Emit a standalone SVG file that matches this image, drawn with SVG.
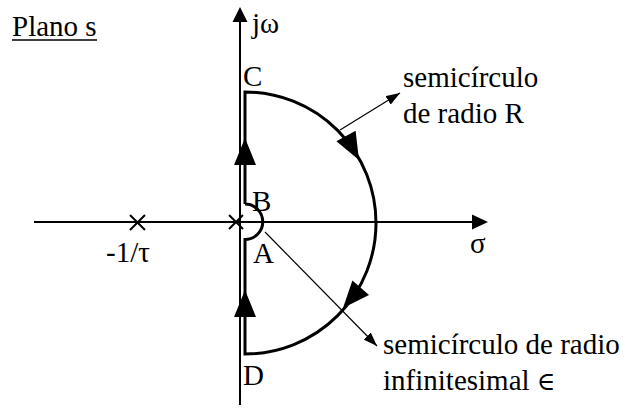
<svg xmlns="http://www.w3.org/2000/svg" width="625" height="410" viewBox="0 0 625 410">
<style>
text{font-family:'Liberation Serif','Times New Roman','DejaVu Serif',serif;font-size:29px;fill:#000}
.axis{stroke:#000;stroke-width:2;fill:none}
.contour{stroke:#000;stroke-width:3;fill:none}
.thin{stroke:#000;stroke-width:1.2;fill:none}
.head{fill:#000;stroke:none}
</style>
<defs>
<marker id="ah" markerWidth="14" markerHeight="10" refX="14" refY="5" orient="auto" markerUnits="userSpaceOnUse">
<path d="M0,0 L14,5 L0,10 Z" fill="#000"/>
</marker>
</defs>
<rect width="625" height="410" fill="#fff"/>
<g id="axes">
<line class="axis" x1="34" y1="222" x2="474" y2="222"/>
<path class="head" d="M488,222 L472,214.5 L472,229.5 Z"/>
<line class="axis" x1="240" y1="405" x2="240" y2="20"/>
<path class="head" d="M240,7 L232.5,22 L247.5,22 Z"/>
</g>
<g id="poles">
<path class="axis" d="M229,215 L243,229 M229,229 L243,215"/>
<path class="axis" d="M130,215 L145,230 M130,230 L145,215"/>
</g>
<g id="contour">
<path class="contour" d="M245,204 L245,92 A131,131 0 0 1 245,354 L245,239.5 A17.7,17.7 0 0 0 245,204"/>
</g>
<g id="connectors">
<path class="head" d="M245,138 L234,165 L256,165 Z"/>
<path class="head" d="M245,290 L234,317 L256,317 Z"/>
<path class="head" d="M359,160 L355.6,130.7 L336.4,141.3 Z"/>
<path class="head" d="M343,308 L369,295 L352.4,280.4 Z"/>
<line class="thin" x1="340" y1="130" x2="400" y2="93" marker-end="url(#ah)"/>
<line class="thin" x1="265" y1="232" x2="377" y2="346" marker-end="url(#ah)"/>
</g>
<g id="labels">
<text x="12" y="36">Plano s</text>
<line x1="12" y1="40" x2="97" y2="40" stroke="#000" stroke-width="1.5"/>
<text x="252" y="33">jω</text>
<text x="243" y="86">C</text>
<text x="252" y="211">B</text>
<text x="253" y="263">A</text>
<text x="243" y="385">D</text>
<text x="106" y="262">-1/τ</text>
<text x="470" y="253">σ</text>
<text x="403" y="87">semicírculo</text>
<text x="403" y="123">de radio R</text>
<text x="383" y="354">semicírculo de radio</text>
<text x="383" y="390">infinitesimal <tspan font-size="25">∈</tspan></text>
</g>
</svg>
